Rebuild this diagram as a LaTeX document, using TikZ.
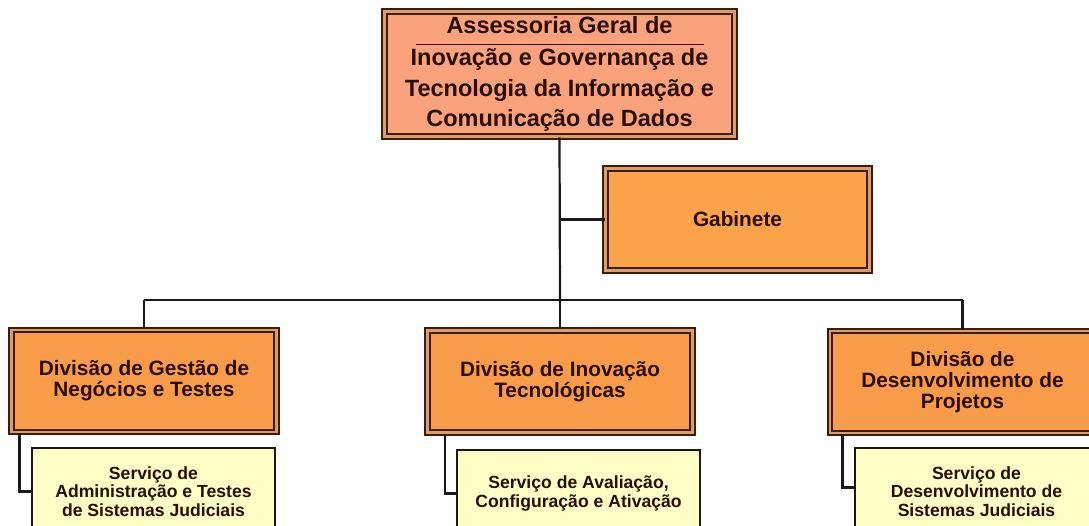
\documentclass[tikz,border=0pt]{standalone}
\usepackage{fontspec}
\setmainfont{Liberation Sans}
\usetikzlibrary{calc}
\definecolor{salmon}{HTML}{F9A27C}
\definecolor{orangebox}{HTML}{F99C4A}
\definecolor{gabfill}{HTML}{FBA34B}
\definecolor{tanline}{HTML}{D99E6E}
\definecolor{darkb}{HTML}{3D1C0C}
\definecolor{txt}{HTML}{2A0C00}
\definecolor{servfill}{HTML}{FFFFC6}
\tikzset{
  dbox/.style={draw=darkb, line width=2pt, double=tanline, double distance=2.6pt,
    align=center, text=txt, font=\bfseries, inner sep=0pt},
  topbox/.style={dbox, fill=salmon, minimum width=350pt, minimum height=125pt,
    font=\fontsize{23.5}{30.5}\selectfont\bfseries},
  divbox/.style={dbox, fill=orangebox, minimum width=265pt, minimum height=102pt,
    font=\fontsize{20.8}{21}\selectfont\bfseries},
  gabbox/.style={dbox, fill=gabfill, minimum width=264pt, minimum height=102pt,
    font=\fontsize{20.8}{21}\selectfont\bfseries},
  servbox/.style={draw=black!90, line width=1.8pt, fill=servfill, align=center, text=txt,
    minimum width=243pt, minimum height=87pt, inner sep=0pt,
    font=\fontsize{17.6}{18.4}\selectfont\bfseries},
  conn/.style={draw=black!90, line width=2.2pt}
}
\begin{document}
\begin{tikzpicture}[x=1pt,y=-1pt]
\useasboundingbox (0,0) rectangle (1089,526);
\clip (0,0) rectangle (1089,526);
% nodes
\node[topbox] (top) at (559.5,74) {Assessoria Geral de\\[2pt]Inovação e Governança de\\Tecnologia da Informação e\\Comunicação de Dados};
\draw[line width=1.8pt, txt] ($(top.north)+(-144,34)$) -- ++(288,0);
\node[gabbox] (gab) at (737.5,219.5) {Gabinete};
\node[divbox] (d1) at (144,381) {Divisão de Gestão de\\Negócios e Testes};
\node[divbox] (d2) at (560,381.5) {Divisão de Inovação\\Tecnológicas};
\node[divbox] (d3) at (962.5,382) {Divisão de\\Desenvolvimento de\\Projetos};
\node[servbox] (s1) at (153.5,491.5) {Serviço de\\Administração e Testes\\de Sistemas Judiciais};
\node[servbox] (s2) at (578.5,493.5) {Serviço de Avaliação,\\Configuração e Ativação};
\node[servbox] (s3) at (976.5,491.5) {Serviço de\\Desenvolvimento de\\Sistemas Judiciais};
% coordinates
\coordinate (bus) at (560,300);
\coordinate (busL) at (144,300);
\coordinate (busR) at (962.5,300);
% connectors
\draw[conn] (top.south) -- (bus);
\draw[conn] (top.south |- gab.west) -- (gab.west);
\draw[conn] (busL) -- (busR);
\draw[conn] (busL) -- (d1.north);
\draw[conn] (bus) -- (d2.north);
\draw[conn] (busR) -- (d3.north);
\draw[conn] ($(d1.south west)+(9,0)$) |- (s1.west);
\draw[conn] ($(d2.south west)+(18.5,0)$) |- (s2.west);
\draw[conn] ($(d3.south west)+(13.5,0)$) |- ($(s3.west)+(0,-4)$);
\end{tikzpicture}
\end{document}
